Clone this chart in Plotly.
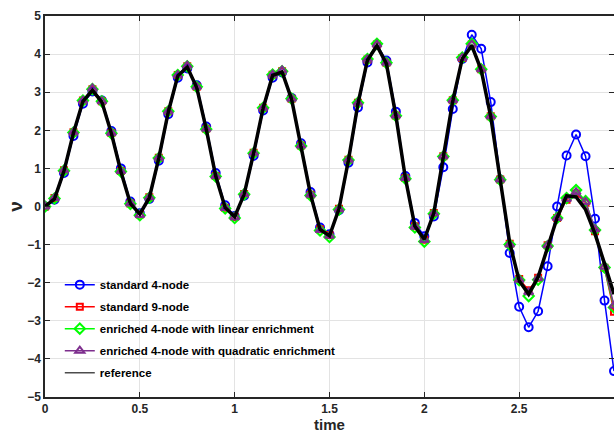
import plotly.graph_objects as go

time = [0.00, 0.05, 0.10, 0.15, 0.20, 0.25, 0.30, 0.35, 0.40, 0.45,
        0.50, 0.55, 0.60, 0.65, 0.70, 0.75, 0.80, 0.85, 0.90, 0.95,
        1.00, 1.05, 1.10, 1.15, 1.20, 1.25, 1.30, 1.35, 1.40, 1.45,
        1.50, 1.55, 1.60, 1.65, 1.70, 1.75, 1.80, 1.85, 1.90, 1.95,
        2.00, 2.05, 2.10, 2.15, 2.20, 2.25, 2.30, 2.35, 2.40, 2.45,
        2.50, 2.55, 2.60, 2.65, 2.70, 2.75, 2.80, 2.85, 2.90, 2.95,
        3.00]

std4 = [0.00, 0.18, 0.88, 1.85, 2.70, 3.02, 2.78, 1.98, 1.00, 0.13,
        -0.18, 0.20, 1.20, 2.42, 3.38, 3.62, 3.18, 2.10, 0.88, 0.03,
        -0.25, 0.28, 1.33, 2.52, 3.38, 3.52, 2.85, 1.66, 0.38, -0.55,
        -0.73, -0.10, 1.15, 2.60, 3.78, 4.25, 3.83, 2.49, 0.80, -0.43,
        -0.78, -0.26, 1.03, 2.56, 3.87, 4.51, 4.14, 2.74, 0.71, -1.22,
        -2.63, -3.17, -2.75, -1.57, 0.00, 1.34, 1.89, 1.32, -0.32, -2.47,
        -4.32]

std9 = [0.00, 0.22, 0.95, 1.95, 2.78, 3.08, 2.76, 1.93, 0.93, 0.08,
        -0.21, 0.24, 1.28, 2.50, 3.45, 3.68, 3.14, 2.04, 0.80, -0.03,
        -0.27, 0.33, 1.41, 2.59, 3.46, 3.55, 2.83, 1.60, 0.31, -0.60,
        -0.75, -0.06, 1.23, 2.72, 3.86, 4.25, 3.77, 2.39, 0.75, -0.52,
        -0.87, -0.17, 1.32, 2.79, 3.90, 4.25, 3.60, 2.37, 0.71, -0.98,
        -1.90, -2.20, -1.87, -1.02, -0.30, 0.18, 0.34, 0.10, -0.65, -1.61,
        -2.76]

enr_lin = [0.00, 0.21, 0.94, 1.94, 2.78, 3.08, 2.76, 1.92, 0.92, 0.07,
           -0.23, 0.23, 1.27, 2.50, 3.45, 3.68, 3.14, 2.03, 0.79, -0.05,
           -0.30, 0.32, 1.40, 2.59, 3.46, 3.55, 2.83, 1.59, 0.29, -0.63,
           -0.80, -0.08, 1.22, 2.72, 3.87, 4.27, 3.77, 2.38, 0.73, -0.55,
           -0.92, -0.19, 1.31, 2.79, 3.91, 4.27, 3.60, 2.36, 0.70, -1.00,
           -1.93, -2.35, -1.92, -1.04, -0.30, 0.22, 0.43, 0.14, -0.62, -1.60,
           -2.65]

enr_quad = [0.00, 0.22, 0.95, 1.95, 2.78, 3.10, 2.76, 1.93, 0.93, 0.08,
            -0.22, 0.24, 1.28, 2.50, 3.45, 3.70, 3.14, 2.04, 0.80, -0.04,
            -0.28, 0.33, 1.41, 2.59, 3.46, 3.57, 2.83, 1.60, 0.31, -0.62,
            -0.77, -0.07, 1.23, 2.72, 3.86, 4.25, 3.77, 2.39, 0.75, -0.53,
            -0.88, -0.18, 1.32, 2.79, 3.90, 4.25, 3.60, 2.37, 0.71, -1.00,
            -1.92, -2.25, -1.88, -1.02, -0.30, 0.20, 0.38, 0.12, -0.60, -1.58,
            -2.60]

reference = [0.00, 0.20, 0.93, 1.93, 2.76, 3.05, 2.74, 1.92, 0.92, 0.08,
             -0.20, 0.23, 1.27, 2.48, 3.43, 3.66, 3.12, 2.03, 0.80, -0.03,
             -0.27, 0.32, 1.40, 2.58, 3.44, 3.53, 2.82, 1.60, 0.31, -0.60,
             -0.77, -0.06, 1.22, 2.70, 3.84, 4.22, 3.75, 2.38, 0.75, -0.52,
             -0.86, -0.17, 1.31, 2.77, 3.88, 4.22, 3.58, 2.36, 0.70, -0.95,
             -1.95, -2.30, -1.85, -1.05, -0.30, 0.28, 0.25, -0.08, -0.72, -1.50,
             -2.30]

series = [
    ("standard 4-node", std4, "#0000FF", "circle-open", 8),
    ("standard 9-node", std9, "#FF0000", "square-open", 6),
    ("enriched 4-node with linear enrichment", enr_lin, "#00FF00", "diamond-open", 8),
    ("enriched 4-node with quadratic enrichment", enr_quad, "#7E2F8E", "triangle-up-open", 8),
]

fig = go.Figure()
for i, (name, vals, color, sym, sz) in enumerate(series):
    fig.add_trace(go.Scatter(
        x=time, y=vals, name=name, mode="lines+markers", legendgroup=f"g{i}",
        line=dict(color=color, width=1.5),
        marker=dict(symbol=sym, size=sz, color=color, line=dict(color=color, width=2)),
    ))
# thick reference curve (legend entry drawn by a thin-line proxy, as in the original)
fig.add_trace(go.Scatter(
    x=time, y=reference, name="reference", mode="lines", legendgroup="gref",
    line=dict(color="black", width=3.5), showlegend=False,
))
fig.add_trace(go.Scatter(
    x=[None], y=[None], name="reference", mode="lines", legendgroup="gref",
    line=dict(color="#4d4d4d", width=1.5),
))

font_family = "Liberation Sans, Arial, Helvetica, sans-serif"
axis_common = dict(
    showline=True, linecolor="#262626", linewidth=1.5, mirror="ticks",
    ticks="inside", ticklen=5, tickcolor="#262626", tickwidth=1,
    showgrid=True, gridcolor="#e3e3e3", gridwidth=1, zeroline=False,
    automargin=False,
    tickfont=dict(family=font_family, size=12, color="#262626", weight="bold"),
)

fig.update_layout(
    width=614, height=435,
    margin=dict(l=45, r=0, t=16, b=38),
    paper_bgcolor="white", plot_bgcolor="white",
    font=dict(family=font_family, color="#262626"),
    xaxis=dict(range=[0, 3], tickvals=[0, 0.5, 1, 1.5, 2, 2.5, 3],
               ticktext=["0", "0.5", "1", "1.5", "2", "2.5", "3"],
               title=dict(text="time", font=dict(family=font_family, size=15, weight="bold"), standoff=0),
               **axis_common),
    yaxis=dict(range=[-5, 5], tickvals=list(range(-5, 6)),
               title=dict(text="ν", font=dict(family=font_family, size=19, weight="bold"), standoff=0),
               **axis_common),
    legend=dict(x=0.026, y=0.333, xanchor="left", yanchor="top",
                bgcolor="rgba(0,0,0,0)", borderwidth=0,
                font=dict(family=font_family, size=11.5, color="black", weight="bold"),
                tracegroupgap=3, itemwidth=30),
    showlegend=True,
)

# remove the page's default body margin so the 614x435 figure fills the window
fig.write_html(
    "out.html",
    config={"displayModeBar": False},
    post_script="document.documentElement.style.overflow='hidden';"
                "document.body.style.margin='0';document.body.style.overflow='hidden';",
)
